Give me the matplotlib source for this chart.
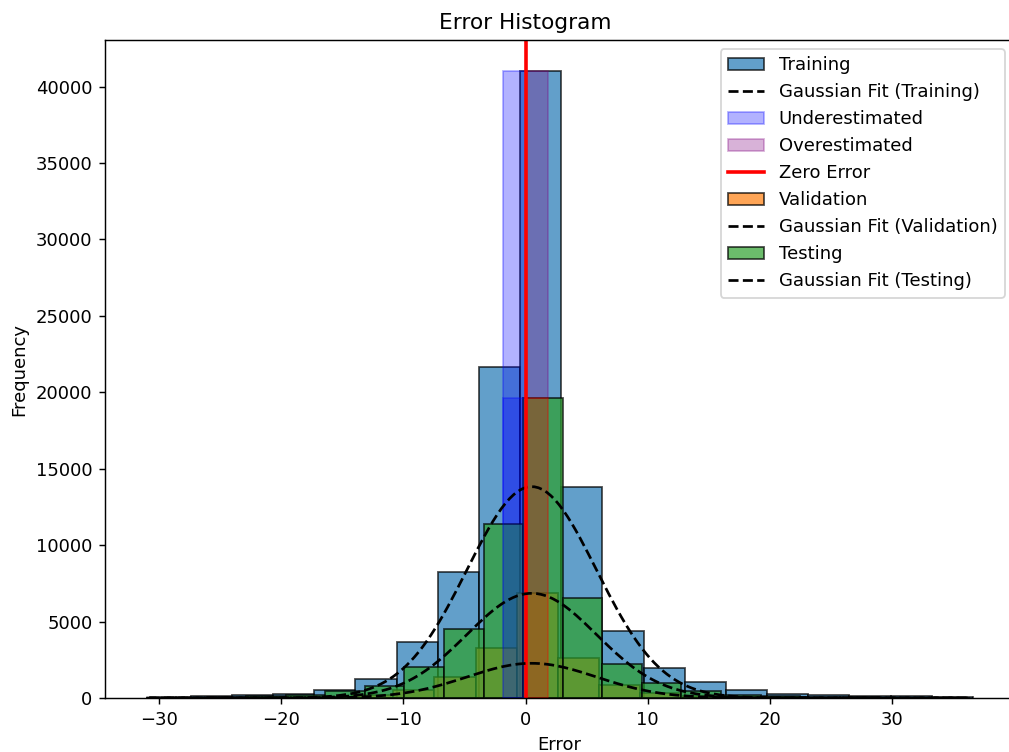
import numpy as np
import matplotlib.pyplot as plt

# histogram counts
train_start, train_width = -30.78, 3.37
train_counts = [60, 130, 200, 280, 520, 1240, 3650, 8270, 21640, 41000,
                13830, 4400, 1970, 1020, 500, 280, 200, 150, 100, 60]

val_start, val_width = -31.05, 3.37
val_counts = [5, 10, 20, 40, 80, 200, 500, 1350, 3300, 6870,
              2600, 850, 350, 150, 70, 40, 20, 10, 5, 5]

test_start, test_width = -29.36, 3.24
test_counts = [30, 60, 100, 200, 450, 800, 2000, 4500, 11400, 19600,
               6520, 2220, 960, 450, 200, 100, 60, 40, 20, 10]

# gaussian fits: (mean, std, peak)
train_fit = (0.5, 5.3, 13830)
val_fit = (0.5, 5.3, 2270)
test_fit = (0.5, 5.3, 6850)

# under / over estimated highlight around zero
under_width, over_width = 1.85, 1.87
train_peak, test_peak = 41000, 19600


def edges(start, width, counts):
    return start + width * np.arange(len(counts) + 1)


def hist(ax, start, width, counts, color, label):
    e = edges(start, width, counts)
    centers = (e[:-1] + e[1:]) / 2
    _, _, patches = ax.hist(centers, bins=e, weights=counts, color=color, alpha=0.7,
                            edgecolor='black', label=label)
    return e, patches[0]


def gauss(ax, e, fit, label):
    mu, sd, peak = fit
    x = np.linspace(e[0], e[-1], 200)
    line, = ax.plot(x, peak * np.exp(-(x - mu) ** 2 / (2 * sd ** 2)), 'k--', label=label)
    return line


dpi = 130
fig = plt.figure(figsize=(1009 / dpi, 752 / dpi), dpi=dpi)
# the right spine sits just past the image edge in the original
ax = fig.add_axes([105 / 1009, 1 - 698 / 752, 908.6 / 1009, 658 / 752])

handles = []
e, h = hist(ax, train_start, train_width, train_counts, '#1f77b4', 'Training')
handles += [h, gauss(ax, e, train_fit, 'Gaussian Fit (Training)')]
b = ax.bar(0, train_peak, width=-under_width, align='edge', color='blue', alpha=0.3,
           edgecolor='blue', label='Underestimated')
handles.append(b)
b = ax.bar(0, train_peak, width=over_width, align='edge', color='purple', alpha=0.3,
           edgecolor='purple', label='Overestimated')
handles.append(b)
handles.append(ax.axvline(0, color='red', lw=2, label='Zero Error'))

e, h = hist(ax, val_start, val_width, val_counts, '#ff7f0e', 'Validation')
handles += [h, gauss(ax, e, val_fit, 'Gaussian Fit (Validation)')]

e, h = hist(ax, test_start, test_width, test_counts, '#2ca02c', 'Testing')
handles += [h, gauss(ax, e, test_fit, 'Gaussian Fit (Testing)')]
ax.bar(0, test_peak, width=-under_width, align='edge', color='blue', alpha=0.3,
       edgecolor='blue')
ax.bar(0, test_peak, width=over_width, align='edge', color='red', alpha=0.3,
       edgecolor='red')

ax.set_xlim(-34.43, 39.95)
ax.set_ylim(0, 43050)
ax.set_title('Error Histogram', x=0.462)
ax.set_xlabel('Error')
ax.set_ylabel('Frequency')
ax.legend(handles=handles, loc='upper right')

fig.savefig('out.png', dpi=dpi)
